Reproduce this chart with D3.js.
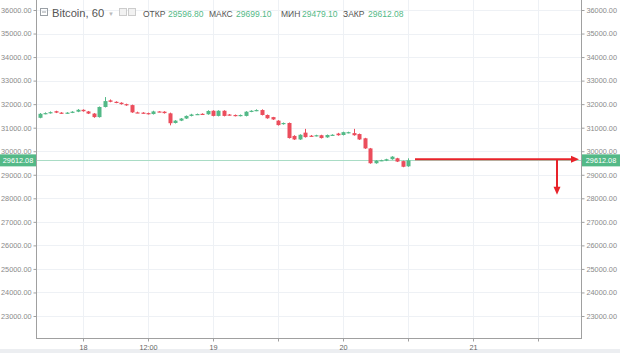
<!DOCTYPE html>
<html><head><meta charset="utf-8">
<script src="https://cdn.jsdelivr.net/npm/d3@7"></script>
<style>html,body{margin:0;padding:0;background:#fff;}svg{display:block;}</style>
</head><body>
<svg id="c" width="620" height="353"></svg>
<script>
// ---- data ----
const startTime = "2021-07-17T16:00:00Z"; // first hourly candle
const opens  = [31420,31590,31620,31700,31640,31610,31640,31680,31760,31690,31600,31450,31880,32160,32100,32060,32000,31960,31650,31640,31620,31580,31690,31680,31610,31200,31300,31390,31500,31560,31590,31570,31720,31500,31720,31560,31540,31500,31500,31680,31720,31750,31540,31450,31300,31150,31200,30650,30500,30790,30660,30650,30680,30590,30690,30750,30690,30780,30770,30730,30550,30120,29490,29600,29600,29660,29700,29580,29360];
const closes = [31590,31620,31660,31640,31610,31640,31680,31760,31700,31600,31450,31880,32130,32100,32060,32000,31950,31650,31640,31620,31580,31690,31680,31620,31190,31300,31390,31500,31560,31580,31570,31710,31500,31720,31500,31540,31500,31540,31680,31720,31750,31540,31400,31350,31110,31200,30560,30500,30700,30600,30640,30680,30560,30690,30700,30680,30810,30810,30680,30500,30120,29490,29600,29620,29660,29770,29560,29340,29612];
const highs  = [31620,31650,31690,31720,31660,31660,31700,31790,31780,31710,31620,31900,32300,32200,32120,32080,32020,31980,31680,31660,31640,31720,31700,31700,31640,31320,31410,31520,31590,31600,31610,31740,31740,31740,31740,31580,31560,31560,31700,31740,31780,31780,31560,31460,31320,31220,31220,30680,30720,30950,30690,30700,30700,30710,30720,30780,30830,30830,30950,30750,30570,30140,29620,29640,29680,29790,29720,29600,29699];
const lows   = [31400,31570,31600,31620,31590,31590,31620,31660,31680,31580,31420,31430,31860,32080,32040,31980,31930,31630,31620,31600,31560,31560,31660,31600,31100,31180,31280,31370,31480,31540,31550,31550,31480,31480,31480,31520,31480,31480,31480,31660,31700,31520,31380,31330,31090,31130,30540,30480,30480,30580,30620,30630,30540,30570,30670,30660,30670,30760,30660,30480,30100,29470,29470,29580,29580,29640,29540,29320,29340];
const priceTicks = [23000,24000,25000,26000,27000,28000,29000,30000,31000,32000,33000,34000,35000,36000];
const timeTicks = ["2021-07-18T00:00:00Z","2021-07-18T12:00:00Z","2021-07-19T00:00:00Z","2021-07-19T12:00:00Z","2021-07-20T00:00:00Z","2021-07-20T12:00:00Z","2021-07-21T00:00:00Z","2021-07-21T12:00:00Z"];
const timeTickLabels = ["18","12:00","19","","20","","21",""];
const lastPrice = 29612.08;
const lastPriceLabel = "29612.08";
const header = {symbol:"Bitcoin, 60", labels:["ОТКР","МАКС","МИН","ЗАКР"], values:["29596.80","29699.10","29479.10","29612.08"]};
const arrowTargetPrice = 28150;

// ---- layout ----
const L = 36, R = 581, B = 338;
const svg = d3.select("#c");
const green = "#53b987", red = "#eb4d5c";
const font = "Liberation Sans, Arial, sans-serif";

const y = d3.scaleLinear().domain([23000, 36000]).range([316, 10]);
const x = d3.scaleUtc().domain([new Date("2021-07-18T00:00:00Z"), new Date("2021-07-21T00:00:00Z")]).range([83, 473]);
const t0 = new Date(startTime);
const candles = opens.map((o,i)=>({t:d3.utcHour.offset(t0,i),o,c:closes[i],h:highs[i],l:lows[i]}));

svg.append("rect").attr("width",620).attr("height",353).attr("fill","#fff");
svg.append("rect").attr("x",0).attr("y",349).attr("width",620).attr("height",4).attr("fill","#eceef1");

svg.append("clipPath").attr("id","pc").append("rect").attr("x",L).attr("y",0).attr("width",R-L).attr("height",B);
const plot = svg.append("g").attr("clip-path","url(#pc)");

// grid
plot.selectAll(".hg").data(priceTicks).join("line")
  .attr("x1",L).attr("x2",R).attr("y1",d=>Math.round(y(d))+0.5).attr("y2",d=>Math.round(y(d))+0.5)
  .attr("stroke","#eef1f5");
plot.selectAll(".vg").data(timeTicks).join("line")
  .attr("x1",d=>Math.round(x(new Date(d)))+0.5).attr("x2",d=>Math.round(x(new Date(d)))+0.5)
  .attr("y1",0).attr("y2",B).attr("stroke","#eef1f5");

// price line
plot.append("line").attr("x1",L).attr("x2",R).attr("y1",Math.round(y(lastPrice))+0.5).attr("y2",Math.round(y(lastPrice))+0.5)
  .attr("stroke","#a9dcc5").attr("stroke-width",1);

// candles
const bw = 4;
const cg = plot.selectAll(".cd").data(candles).join("g");
cg.append("line")
  .attr("x1",d=>Math.round(x(d.t))+0.5).attr("x2",d=>Math.round(x(d.t))+0.5)
  .attr("y1",d=>y(d.h)).attr("y2",d=>y(d.l))
  .attr("stroke",d=>d.c>=d.o?green:red).attr("stroke-width",1);
cg.append("rect")
  .attr("x",d=>Math.round(x(d.t))-1.5).attr("width",bw)
  .attr("y",d=>y(Math.max(d.o,d.c)))
  .attr("height",d=>Math.max(1.2,Math.abs(y(d.o)-y(d.c))))
  .attr("fill",d=>d.c>=d.o?green:red);

// header
const hg = svg.append("g");
hg.append("rect").attr("x",40.5).attr("y",8.5).attr("width",7).attr("height",7).attr("fill","none").attr("stroke","#9aa0a6");
hg.append("line").attr("x1",42).attr("x2",46).attr("y1",12).attr("y2",12).attr("stroke","#9aa0a6");
hg.append("text").attr("x",52).attr("y",17).attr("font-family",font).attr("font-size",11.2).attr("fill","#555").text(header.symbol);
hg.append("text").attr("x",108).attr("y",15.5).attr("font-family",font).attr("font-size",6).attr("fill","#bbb").text("▼");
hg.append("rect").attr("x",119.5).attr("y",8.5).attr("width",7).attr("height",7).attr("fill","#f2f2f2").attr("stroke","#ccc");
hg.append("rect").attr("x",128.5).attr("y",8.5).attr("width",7).attr("height",7).attr("fill","#f2f2f2").attr("stroke","#ccc");
const hx = [[143,168],[209,236],[281,302],[343,368]];
header.labels.forEach((lab,i)=>{
  hg.append("text").attr("x",hx[i][0]).attr("y",16.5).attr("font-family",font).attr("font-size",8.5).attr("fill","#555").text(lab);
  hg.append("text").attr("x",hx[i][1]).attr("y",16.5).attr("font-family",font).attr("font-size",8.5).attr("fill",green).text(header.values[i]);
});

// axes
const ax = svg.append("g").attr("stroke","#a0a0a0").attr("stroke-width",1);
ax.append("line").attr("x1",L+0.5).attr("x2",L+0.5).attr("y1",0).attr("y2",B+0.5);
ax.append("line").attr("x1",R+0.5).attr("x2",R+0.5).attr("y1",0).attr("y2",B+0.5);
ax.append("line").attr("x1",L).attr("x2",R+1).attr("y1",B+0.5).attr("y2",B+0.5);

const leftAxis = d3.axisLeft(y).tickValues(priceTicks).tickFormat(d3.format(".2f")).tickSize(3).tickPadding(2);
const rightAxis = d3.axisRight(y).tickValues(priceTicks).tickFormat(d3.format(".2f")).tickSize(3).tickPadding(2);
const bottomAxis = d3.axisBottom(x).tickValues(timeTicks.map(d=>new Date(d))).tickFormat((d,i)=>timeTickLabels[i]).tickSize(3).tickPadding(3);
function style(g, col){
  g.select(".domain").remove();
  g.selectAll("line").attr("stroke","#a0a0a0");
  g.selectAll("text").attr("fill",col).attr("font-family",font).attr("font-size",7.3);
}
svg.append("g").attr("transform",`translate(${L+0.5},0)`).call(leftAxis).call(style,"#8a8a8a");
svg.append("g").attr("transform",`translate(${R+0.5},0)`).call(rightAxis).call(style,"#8a8a8a");
svg.append("g").attr("transform",`translate(0,${B+0.5})`).call(bottomAxis).call(style,"#666");

// last price labels
const py = y(lastPrice);
[[0,L],[R+1,620-R-1]].forEach(([bx,bwid])=>{
  svg.append("rect").attr("x",bx).attr("y",py-6).attr("width",bwid).attr("height",12).attr("fill",green);
  svg.append("text").attr("x",bx+bwid/2).attr("y",py+2.6).attr("text-anchor","middle")
    .attr("font-family",font).attr("font-size",7.3).attr("fill","#fff").text(lastPriceLabel);
});

// red arrows (annotation)
const last = candles[candles.length-1];
const ay = y(29660);
const ax0 = x(last.t)+7, ax1 = R-2;
const arrowRed = "#e8232a";
svg.append("line").attr("x1",ax0).attr("x2",ax1-7).attr("y1",ay).attr("y2",ay).attr("stroke",arrowRed).attr("stroke-width",2);
svg.append("path").attr("d",`M${ax1},${ay} L${ax1-8},${ay-3.5} L${ax1-8},${ay+3.5} Z`).attr("fill",arrowRed);
const vx = 557, vy1 = y(arrowTargetPrice);
svg.append("line").attr("x1",vx).attr("x2",vx).attr("y1",ay).attr("y2",vy1-7).attr("stroke",arrowRed).attr("stroke-width",2);
svg.append("path").attr("d",`M${vx},${vy1} L${vx-3.5},${vy1-8} L${vx+3.5},${vy1-8} Z`).attr("fill",arrowRed);
</script>
</body></html>
